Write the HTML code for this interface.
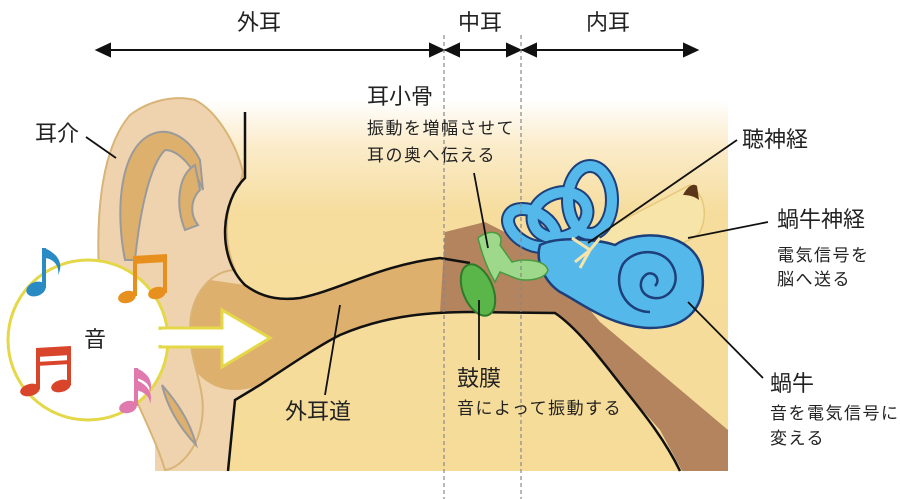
<!DOCTYPE html>
<html><head><meta charset="utf-8"><style>
body{margin:0;background:#fff;}
svg{display:block;font-family:"Liberation Sans","Noto Sans CJK JP",sans-serif;}
.t{font-size:22px;fill:#222;}
.s{font-size:17px;fill:#222;letter-spacing:1.5px;}
</style></head><body>
<svg width="900" height="499" viewBox="0 0 900 499" xmlns="http://www.w3.org/2000/svg">
<defs>
<linearGradient id="g" x1="0" y1="0" x2="0" y2="1">
<stop offset="0" stop-color="#fff"/><stop offset="0.12" stop-color="#fbeccb"/><stop offset="0.3" stop-color="#f6dd9e"/><stop offset="1" stop-color="#f6dc98"/>
</linearGradient>
</defs>
<rect x="155" y="100" width="573" height="371" fill="url(#g)"/>
<!-- head skin region -->
<path d="M200,175 L243,172 L245,178 C222,200 215,255 245,285 C265,300 290,300 300,298 L330,340 L260,385 L235,400 L228,471 L155,471 L155,200 Z" fill="#f0d4ae"/>
<!-- ear canal tan -->
<path d="M245,285 C265,300 290,300 300,298 C340,290 370,268 440,258 L465,262 L470,312 L440,312 C400,314 360,325 330,340 L260,385 C235,395 210,390 195,370 C175,345 180,300 210,280 Z" fill="#deb06e"/>
<!-- brown bone -->
<path d="M445,232 L485,222 L530,245 L560,275 L600,322 L728,430 L728,471 L682,471 L660,430 L620,385 L575,330 L555,313 L440,312 Z" fill="#b3845e"/>
<!-- pinna -->
<path d="M165,470 C150,420 110,360 100,290 C95,220 100,150 130,115 C150,100 175,95 195,100 C215,110 235,140 243,172 L240,185 C225,200 222,240 235,270 C215,270 190,290 190,330 C190,370 210,390 200,430 C195,450 180,468 165,470 Z" fill="#efd3ae" stroke="#d9b477" stroke-width="2"/>
<path d="M125,260 C115,210 120,150 150,135 C170,125 190,140 200,160 L203,190 C195,170 180,150 165,150 C150,165 140,210 135,260 Z" fill="#deb06e" stroke="#9a9a9a" stroke-width="2"/>
<path d="M185,230 C175,205 178,175 195,165 L200,190 C190,200 190,215 198,225 Z" fill="#deb06e" stroke="#9a9a9a" stroke-width="2"/>
<path d="M162,385 C175,400 190,420 196,445 C182,430 168,410 162,385 Z" fill="#deb06e" stroke="#9a9a9a" stroke-width="2"/>
<!-- contours -->
<path d="M245,112 L245,178 C222,200 215,255 245,285 C265,300 285,300 300,298 C340,290 380,265 440,258 L470,263" fill="none" stroke="#111" stroke-width="2.5"/>
<path d="M228,471 L235,400 L260,385 C290,365 320,345 340,335 C380,318 420,312 470,312 L555,313 C580,330 605,365 625,390 C645,415 665,440 680,471" fill="none" stroke="#111" stroke-width="2.5"/>
<!-- nerve -->
<path d="M585,240 L690,185 C705,195 708,215 700,232 C690,245 660,250 600,252 Z" fill="#f7e4a8" stroke="#e6c87a" stroke-width="1.5"/>
<path d="M683,195 C688,185 694,183 697,186 L699,200 C694,196 688,195 683,195 Z" fill="#5a3518"/>
<!-- semicircular canals -->
<g fill="none" stroke="#1d3f7a" stroke-width="14">
<ellipse cx="560" cy="215" rx="28" ry="22" transform="rotate(-20 560 215)"/>
<ellipse cx="590" cy="200" rx="22" ry="34"/>
<ellipse cx="532" cy="228" rx="26" ry="16" transform="rotate(30 532 228)"/>
</g>
<g fill="none" stroke="#55b8ea" stroke-width="10">
<ellipse cx="560" cy="215" rx="28" ry="22" transform="rotate(-20 560 215)"/>
<ellipse cx="590" cy="200" rx="22" ry="34"/>
<ellipse cx="532" cy="228" rx="26" ry="16" transform="rotate(30 532 228)"/>
</g>
<!-- vestibule + cochlea -->
<path d="M540,245 C560,235 600,240 615,245 C640,228 695,232 702,270 C707,305 690,328 650,328 C610,327 580,302 560,292 C545,282 535,262 540,245 Z" fill="#55b8ea" stroke="#1d3f7a" stroke-width="2.5"/>
<path d="M650,312 C625,312 612,285 623,264 C635,248 662,248 672,265 C682,282 670,300 654,298 C639,296 637,280 647,274 C655,271 661,280 655,286" fill="none" stroke="#1d3f7a" stroke-width="2.5"/>
<path d="M590,250 L572,238 M590,250 L575,262 M590,250 L580,268 M590,250 L600,238" stroke="#f7e4a8" stroke-width="3"/>
<!-- ossicles -->
<path d="M478,238 C490,228 505,232 500,245 L512,262 C525,258 545,260 548,270 C545,280 525,282 515,278 L500,272 L495,282 C488,270 482,255 478,238 Z" fill="#9ed88a" stroke="#4a9a40" stroke-width="1.5"/>
<ellipse cx="478" cy="290" rx="15" ry="27" transform="rotate(-22 478 290)" fill="#5ab648" stroke="#2f7a2a" stroke-width="2"/>
<!-- top ruler -->
<g stroke="#111" stroke-width="2" fill="#111">
<line x1="100" y1="50" x2="694" y2="50"/>
<path d="M97,50 L110,44 L110,56 Z"/>
<path d="M697,50 L684,44 L684,56 Z"/>
<path d="M443,50 L430,44 L430,56 Z"/>
<path d="M446,50 L459,44 L459,56 Z"/>
<path d="M520,50 L507,44 L507,56 Z"/>
<path d="M523,50 L536,44 L536,56 Z"/>
</g>
<g stroke="#888" stroke-width="1.2" stroke-dasharray="4,3">
<line x1="444" y1="35" x2="444" y2="499"/>
<line x1="521" y1="35" x2="521" y2="499"/>
</g>
<text class="t" x="237" y="30">外耳</text>
<text class="t" x="458" y="30">中耳</text>
<text class="t" x="586" y="30">内耳</text>
<!-- sound circle -->
<circle cx="88" cy="340" r="80" fill="#fff" stroke="#e5d848" stroke-width="3"/>
<path d="M160,328 L222,328 L222,310 L270,338 L222,367 L222,347 L160,347 Z" fill="#fff" stroke="#e5d848" stroke-width="3"/>
<rect x="150" y="330" width="20" height="15" fill="#fff"/>
<!-- notes -->
<g fill="#2a8bc4"><ellipse cx="36" cy="289" rx="10" ry="7" transform="rotate(-20 36 289)"/><rect x="42" y="248" width="4" height="40"/><path d="M44,248 C55,252 65,262 58,275 C60,265 52,258 44,258 Z"/></g>
<g fill="#e8901e"><ellipse cx="127" cy="297" rx="9" ry="6" transform="rotate(-15 127 297)"/><ellipse cx="157" cy="293" rx="9" ry="6" transform="rotate(-15 157 293)"/><rect x="133" y="258" width="4" height="38"/><rect x="163" y="256" width="4" height="37"/><path d="M133,256 L167,254 L167,262 L133,264 Z"/></g>
<g fill="#d9452a"><ellipse cx="30" cy="390" rx="10" ry="6" transform="rotate(-15 30 390)"/><ellipse cx="61" cy="386" rx="10" ry="6" transform="rotate(-15 61 386)"/><rect x="36" y="350" width="4" height="39"/><rect x="67" y="348" width="4" height="37"/><path d="M36,348 L71,346 L71,355 L36,357 Z"/><path d="M36,362 L71,360 L71,364 L36,366 Z"/></g>
<g fill="#e07aae"><ellipse cx="128" cy="407" rx="9" ry="6" transform="rotate(-15 128 407)"/><rect x="134" y="368" width="4" height="38"/><path d="M136,368 C146,372 154,380 150,392 C150,384 144,380 136,378 Z"/><path d="M136,380 C146,384 154,392 150,404 C150,396 144,392 136,390 Z"/></g>
<text class="t" x="84" y="347">音</text>
<!-- labels -->
<g stroke="#111" stroke-width="1.8">
<line x1="86" y1="137" x2="116" y2="158"/>
<line x1="340" y1="305" x2="325" y2="395"/>
<line x1="474" y1="173" x2="488" y2="248"/>
<line x1="479" y1="300" x2="479" y2="360"/>
<line x1="737" y1="140" x2="588" y2="243"/>
<line x1="768" y1="222" x2="688" y2="238"/>
<line x1="763" y1="378" x2="688" y2="302"/>
</g>
<text class="t" x="35" y="141">耳介</text>
<text class="t" x="285" y="419">外耳道</text>
<text class="t" x="367" y="104">耳小骨</text>
<text class="s" x="367" y="134">振動を増幅させて</text>
<text class="s" x="367" y="161">耳の奥へ伝える</text>
<text class="t" x="457" y="386">鼓膜</text>
<text class="s" x="457" y="414">音によって振動する</text>
<text class="t" x="742" y="147">聴神経</text>
<text class="t" x="777" y="227">蝸牛神経</text>
<text class="s" x="777" y="261">電気信号を</text>
<text class="s" x="777" y="285">脳へ送る</text>
<text class="t" x="770" y="391">蝸牛</text>
<text class="s" x="770" y="419">音を電気信号に</text>
<text class="s" x="770" y="444">変える</text>
</svg>
</body></html>
